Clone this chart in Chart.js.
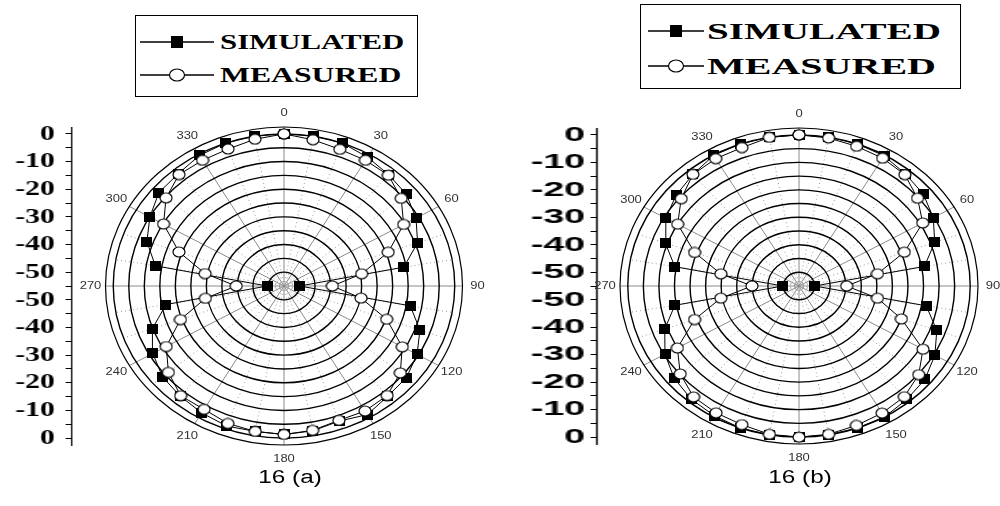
<!DOCTYPE html>
<html>
<head>
<meta charset="utf-8">
<script src="https://cdn.jsdelivr.net/npm/chart.js@4.4.1/dist/chart.umd.min.js"></script>
<style>
  html, body { margin: 0; padding: 0; background: #fff; }
  #page { position: relative; width: 1000px; height: 506px; overflow: hidden; background: #fff; }
  canvas { position: absolute; }
  .legend { position: absolute; border: 1px solid #000; box-sizing: border-box; background: #fff; }
  .legend svg { position: absolute; }
  .legend span {
    position: absolute; font-weight: bold; font-family: "Liberation Serif", "Times New Roman", serif;
    white-space: nowrap; transform-origin: left center; color: #000;
  }
  .caption {
    position: absolute; font: 18px/18px "Liberation Sans", Arial, sans-serif; color: #000;
    white-space: nowrap; transform: translateX(-50%) scaleX(1.35);
  }
</style>
</head>
<body>
<div id="page">
  <!-- legends -->
  <div class="legend" style="left:135px;top:15px;width:283px;height:82px">
    <svg style="left:4px;top:16px" width="74" height="20"><line x1="0" y1="10" x2="74" y2="10" stroke="#000" stroke-width="1.3"/><rect x="31" y="4" width="12" height="12" fill="#000"/></svg>
    <span style="left:84px;top:15px;font-size:22px;line-height:22px;transform:scaleX(1.4)">SIMULATED</span>
    <svg style="left:4px;top:49px" width="74" height="20"><line x1="0" y1="10" x2="74" y2="10" stroke="#000" stroke-width="1.3"/><ellipse cx="37" cy="10" rx="7.5" ry="6" fill="#fff" stroke="#000" stroke-width="1.2"/></svg>
    <span style="left:84px;top:48px;font-size:22px;line-height:22px;transform:scaleX(1.44)">MEASURED</span>
  </div>
  <div class="legend" style="left:640px;top:4px;width:321px;height:85px">
    <svg style="left:7px;top:16px" width="56" height="20"><line x1="0" y1="10" x2="56" y2="10" stroke="#000" stroke-width="1.3"/><rect x="22" y="4" width="12" height="12" fill="#000"/></svg>
    <span style="left:66px;top:15px;font-size:23px;line-height:23px;transform:scaleX(1.7)">SIMULATED</span>
    <svg style="left:7px;top:51px" width="56" height="20"><line x1="0" y1="10" x2="56" y2="10" stroke="#000" stroke-width="1.3"/><ellipse cx="28" cy="10" rx="7.5" ry="6" fill="#fff" stroke="#000" stroke-width="1.2"/></svg>
    <span style="left:66px;top:50px;font-size:23px;line-height:23px;transform:scaleX(1.74)">MEASURED</span>
  </div>

  <canvas id="axisA" width="54" height="390" style="left:21px;top:90px;transform:scaleX(1.35);transform-origin:50px 50%"></canvas>
  <canvas id="polarA" width="460" height="390" style="left:60px;top:90px"></canvas>
  <canvas id="axisB" width="49" height="390" style="left:551px;top:90px;transform:scaleX(1.8);transform-origin:45px 50%"></canvas>
  <canvas id="polarB" width="430" height="390" style="left:570px;top:90px"></canvas>

  <div class="caption" style="left:290px;top:468px">16 (a)</div>
  <div class="caption" style="left:800px;top:468px">16 (b)</div>
</div>

<script>
// angle of every sample, degrees clockwise from top
const angles = [0, 10, 20, 30, 40, 50, 60, 70, 80, 90, 100, 110, 120, 130, 140, 150, 160, 170,
                180, 190, 200, 210, 220, 230, 240, 250, 260, 270, 280, 290, 300, 310, 320, 330, 340, 350];

// 16 (a), dB
const simulatedA = [0, 0, 0, -1.2, -2.5, -3.5, -5.9, -9.2, -15.8, -50, -13.7, -8.4, -5.5, -3.5, -3.0, -1.3, -3.0, -1.8,
                    -1.3, -1.6, -1.1, -2.0, -3.0, -3.9, -6.2, -9.9, -16.4, -49.6, -12.9, -8.0, -5.1, -2.4, -2.0, -0.5, 0, 0];
const measuredA  = [0, -1.3, -2.4, -2.5, -2.7, -5.7, -10.5, -19.3, -29.6, -39.4, -29.8, -19.8, -11.0, -6.1, -3.3, -2.8, -3.3, -2.0,
                    -1.3, -1.6, -2.1, -3.5, -3.2, -6.4, -11.2, -19.5, -29.3, -39.6, -29.2, -19.0, -10.2, -5.4, -2.4, -2.5, -2.3, -1.1];

// 16 (b), dB
const simulatedB = [0, 0, 0, -0.3, -1.8, -2.9, -5.2, -8.6, -14.1, -50, -13.5, -7.9, -4.6, -2.2, -1.1, 0, 0, 0,
                    0, 0, 0, -0.5, -1.2, -2.7, -5.3, -9.1, -14.5, -49.8, -14.5, -9.3, -5.6, -3.5, -2.0, -0.1, 0, 0];
const measuredB  = [0, -0.3, -0.9, -1.3, -2.1, -5.3, -9.1, -19.0, -29.4, -39.7, -29.4, -20.0, -9.0, -4.8, -2.4, -1.6, -1.0, -0.2,
                    0, -0.2, -1.3, -1.7, -2.3, -5.2, -9.9, -19.3, -29.5, -39.9, -29.5, -19.3, -10.0, -5.6, -2.0, -1.5, -1.4, -0.1];

const angleLabels = [0, 30, 60, 90, 120, 150, 180, 210, 240, 270, 300, 330];
const ringDb = [-50, -45, -40, -35, -30, -25, -20, -15, -10, -5, 0];
const axisDb = [0, -10, -20, -30, -40, -50];   // printed on the side axis, mirrored about the centre

const DB_CENTER = -55;   // value at the pole
const R_FRAME = 57.5;    // outer frame, in radial units

function toPoints(vals) {
  const pts = angles.map((a, i) => {
    const r = vals[i] - DB_CENTER, t = a * Math.PI / 180;
    return { x: r * Math.sin(t), y: r * Math.cos(t) };
  });
  pts.push(pts[0]);
  return pts;
}

function squareMarker(w, h) {
  const c = document.createElement('canvas');
  c.width = w; c.height = h;
  const g = c.getContext('2d');
  g.fillStyle = '#000';
  g.fillRect(0, 0, w, h);
  return c;
}
function circleMarker(w, h) {
  const c = document.createElement('canvas');
  c.width = w + 2; c.height = h + 2;
  const g = c.getContext('2d');
  g.beginPath();
  g.ellipse(c.width / 2, c.height / 2, w / 2, h / 2, 0, 0, Math.PI * 2);
  g.fillStyle = '#fff'; g.fill();
  g.lineWidth = 1.2; g.strokeStyle = '#000'; g.stroke();
  return c;
}

// rings, spokes and angle labels of the polar frame
const polarGrid = {
  id: 'polarGrid',
  beforeDatasetsDraw(chart) {
    const { ctx, scales: { x, y } } = chart;
    const cx = x.getPixelForValue(0), cy = y.getPixelForValue(0);
    const rx = r => x.getPixelForValue(r) - cx;
    const ry = r => cy - y.getPixelForValue(r);
    const ax = rx(R_FRAME), ay = ry(R_FRAME);
    ctx.save();
    // fine dotted spokes
    ctx.strokeStyle = '#999'; ctx.lineWidth = 1; ctx.setLineDash([1, 3]);
    for (let a = 0; a < 360; a += 10) {
      if (a % 30 === 0) continue;
      const t = a * Math.PI / 180;
      ctx.beginPath();
      ctx.moveTo(cx, cy);
      ctx.lineTo(cx + rx(55) * Math.sin(t), cy - ry(55) * Math.cos(t));
      ctx.stroke();
    }
    ctx.setLineDash([]);
    // main spokes
    ctx.strokeStyle = '#8a8a8a';
    angleLabels.forEach(a => {
      const t = a * Math.PI / 180;
      ctx.beginPath();
      ctx.moveTo(cx, cy);
      ctx.lineTo(cx + ax * Math.sin(t), cy - ay * Math.cos(t));
      ctx.stroke();
    });
    // rings
    ctx.strokeStyle = '#000'; ctx.lineWidth = 1.4;
    ringDb.forEach(d => {
      const r = d - DB_CENTER;
      ctx.beginPath();
      ctx.ellipse(cx, cy, rx(r), ry(r), 0, 0, Math.PI * 2);
      ctx.stroke();
    });
    ctx.lineWidth = 1.2;
    ctx.beginPath();
    ctx.ellipse(cx, cy, ax, ay, 0, 0, Math.PI * 2);
    ctx.stroke();
    ctx.restore();
  },
  afterDraw(chart) {
    const { ctx, scales: { x, y } } = chart;
    const cx = x.getPixelForValue(0), cy = y.getPixelForValue(0);
    const ax = x.getPixelForValue(R_FRAME) - cx, ay = cy - y.getPixelForValue(R_FRAME);
    ctx.save();
    ctx.fillStyle = '#333';
    ctx.font = '10px "Liberation Sans", Arial, sans-serif';
    ctx.textAlign = 'center'; ctx.textBaseline = 'middle';
    angleLabels.forEach(a => {
      const t = a * Math.PI / 180;
      ctx.save();
      ctx.translate(cx + (ax + 15) * Math.sin(t), cy - (ay + 14) * Math.cos(t));
      ctx.scale(1.3, 1);
      ctx.fillText(String(a), 0, 0);
      ctx.restore();
    });
    ctx.restore();
  }
};

function makePolar(id, sim, meas, padding) {
  new Chart(document.getElementById(id), {
    type: 'scatter',
    data: {
      datasets: [
        {
          label: 'MEASURED', data: toPoints(meas), order: 0,
          showLine: true, borderColor: '#000', borderWidth: 1,
          pointStyle: circleMarker(12, 10), pointRadius: 5
        },
        {
          label: 'SIMULATED', data: toPoints(sim), order: 1,
          showLine: true, borderColor: '#000', borderWidth: 1,
          pointStyle: squareMarker(11, 10), pointRadius: 5
        }
      ]
    },
    options: {
      responsive: false, animation: false, events: [],
      layout: { padding },
      plugins: { legend: { display: false }, tooltip: { enabled: false } },
      scales: {
        x: { display: false, min: -R_FRAME, max: R_FRAME },
        y: { display: false, min: -R_FRAME, max: R_FRAME }
      }
    },
    plugins: [polarGrid]
  });
}

// side axis: a tick every 5 radial units, a label on every odd one
const axisTicks = [];
for (let v = -55; v <= 55; v += 5) axisTicks.push(v);

function makeAxis(id, font, tickLength, pad, width, padding) {
  new Chart(document.getElementById(id), {
    type: 'scatter',
    data: { datasets: [] },
    options: {
      responsive: false, animation: false, events: [],
      layout: { padding },
      plugins: { legend: { display: false }, tooltip: { enabled: false } },
      scales: {
        x: { display: false, min: -1, max: 1 },
        y: {
          min: -R_FRAME, max: R_FRAME,
          afterFit(s) { s.width = width; },
          afterBuildTicks(s) { s.ticks = axisTicks.map(v => ({ value: v })); },
          ticks: {
            autoSkip: false, padding: pad, color: '#000', font,
            callback(v) {
              const u = Math.abs(Math.round(v));
              if (u % 10 !== 5) return '';
              const d = u + DB_CENTER;
              return axisDb.includes(d) ? String(d) : '';
            }
          },
          grid: { drawOnChartArea: false, tickLength, color: '#000', lineWidth: 1 },
          border: { color: '#000', width: 1 }
        }
      }
    }
  });
}

const padA = { left: 45.5, right: 57.5, top: 37, bottom: 35 };
const padB = { left: 50, right: 22, top: 38, bottom: 36 };

makePolar('polarA', simulatedA, measuredA, padA);
makePolar('polarB', simulatedB, measuredB, padB);
makeAxis('axisA', { family: '"Liberation Serif", "Times New Roman", serif', size: 22, weight: 'bold' }, 4, 8, 50,
         { left: 0, right: 0, top: padA.top, bottom: padA.bottom });
makeAxis('axisB', { family: '"Liberation Sans", Arial, sans-serif', size: 21, weight: 'bold' }, 3, 3, 45,
         { left: 0, right: 0, top: padB.top, bottom: padB.bottom });
</script>
</body>
</html>
